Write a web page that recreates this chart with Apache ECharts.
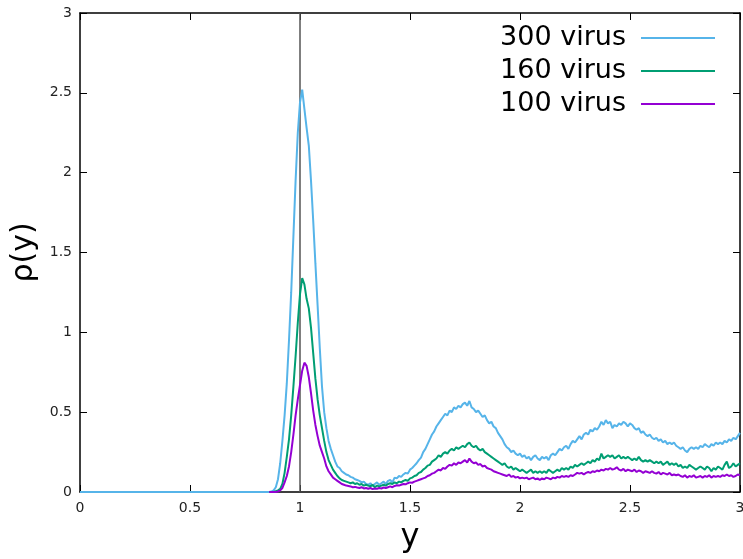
<!DOCTYPE html>
<html>
<head>
<meta charset="utf-8">
<script src="https://cdn.jsdelivr.net/npm/echarts@6/dist/echarts.min.js"></script>
<style>
  html, body { margin: 0; padding: 0; background: #fff; }
  #chart { width: 743px; height: 559px; }
</style>
</head>
<body>
<div id="chart"></div>
<script>
// Density profiles rho(y) for three virus counts
const seriesNames = ['300 virus', '160 virus', '100 virus'];
const seriesColors = ['#56b4e9', '#009e73', '#9400d3'];
const xTicks = [0, 0.5, 1, 1.5, 2, 2.5, 3];
const yTicks = [0, 0.5, 1, 1.5, 2, 2.5, 3];
const markerY = 1;

// flat stretch before the peak (only the 300 curve is traced there)
const flatY = [0, 0.2, 0.4, 0.6, 0.8];
const flat300 = [0, 0, 0, 0, 0];

// fine sampling: y = 0.86 ... 3.00 in steps of 0.01
const fineY = [];
for (let i = 86; i <= 300; i++) fineY.push(i / 100);

const rho300 = [
  0, 0.003, 0.01, 0.03, 0.08, 0.18, 0.32, 0.48, 0.68, 0.95,
  1.25, 1.6, 1.95, 2.25, 2.44, 2.52, 2.4, 2.28, 2.17, 1.95,
  1.7, 1.43, 1.17, 0.9, 0.66, 0.5, 0.4, 0.32, 0.27, 0.23,
  0.19, 0.16, 0.15, 0.13, 0.12,
  0.11, 0.105, 0.095, 0.09, 0.08, 0.075, 0.07, 0.06, 0.065, 0.05,
  0.045, 0.055, 0.04, 0.05, 0.06, 0.045, 0.055, 0.065, 0.05, 0.07,
  0.075, 0.06, 0.09, 0.085, 0.1, 0.095, 0.11, 0.12, 0.115, 0.14,
  0.15, 0.165, 0.18, 0.2, 0.215, 0.25, 0.27, 0.3, 0.33, 0.36,
  0.38, 0.41, 0.43, 0.45, 0.47, 0.49, 0.48, 0.51, 0.5, 0.53,
  0.52, 0.54, 0.53, 0.55, 0.56, 0.54, 0.57, 0.53, 0.52, 0.5,
  0.51, 0.49, 0.47, 0.48, 0.45, 0.43, 0.44, 0.41, 0.4, 0.37,
  0.35, 0.33, 0.3, 0.28, 0.27, 0.25, 0.26, 0.24, 0.23, 0.24,
  0.22, 0.23, 0.21, 0.22, 0.2, 0.22, 0.23, 0.21, 0.2, 0.22,
  0.21, 0.22, 0.2, 0.23, 0.24, 0.23, 0.25, 0.27, 0.26, 0.28,
  0.29, 0.27, 0.3, 0.32, 0.31, 0.33, 0.35, 0.33, 0.36, 0.37,
  0.36, 0.39, 0.38, 0.4, 0.39, 0.41, 0.44, 0.42, 0.45, 0.43,
  0.44, 0.4, 0.42, 0.41, 0.43, 0.42, 0.44, 0.43, 0.41, 0.43,
  0.42, 0.4, 0.39, 0.4, 0.37, 0.38, 0.36, 0.35, 0.36, 0.34,
  0.33, 0.34, 0.32, 0.33, 0.31, 0.32, 0.3, 0.31, 0.3, 0.31,
  0.29, 0.28, 0.27, 0.28, 0.26, 0.25, 0.27, 0.28, 0.27, 0.28,
  0.27, 0.29, 0.28, 0.3, 0.29, 0.28, 0.3, 0.29, 0.31, 0.3,
  0.31, 0.3, 0.32, 0.31, 0.33, 0.32, 0.34, 0.33, 0.35, 0.37
];

const rho160 = [
  0, 0, 0, 0.005, 0.01, 0.02, 0.05, 0.12, 0.22, 0.33,
  0.48, 0.66, 0.85, 1.06, 1.24, 1.34, 1.3, 1.21, 1.15, 1.03,
  0.87, 0.71, 0.58, 0.48, 0.4, 0.32, 0.25, 0.2, 0.17, 0.14,
  0.12, 0.1, 0.085, 0.075, 0.07,
  0.065, 0.06, 0.055, 0.06, 0.05, 0.055, 0.045, 0.05, 0.04, 0.045,
  0.04, 0.035, 0.045, 0.03, 0.04, 0.035, 0.04, 0.045, 0.04, 0.05,
  0.055, 0.05, 0.06, 0.055, 0.065, 0.06, 0.07, 0.075, 0.07, 0.085,
  0.09, 0.1, 0.105, 0.12, 0.125, 0.14, 0.15, 0.165, 0.17, 0.19,
  0.2, 0.21, 0.23, 0.22, 0.24, 0.25, 0.24, 0.26, 0.27, 0.26,
  0.28, 0.27, 0.28, 0.29, 0.28, 0.3, 0.31, 0.29, 0.28, 0.29,
  0.27, 0.26, 0.27, 0.25, 0.24, 0.23, 0.22, 0.21, 0.2, 0.19,
  0.18, 0.17, 0.18, 0.16, 0.15, 0.16, 0.14, 0.15, 0.14, 0.13,
  0.14, 0.13, 0.12, 0.13, 0.14, 0.12, 0.13, 0.12, 0.13, 0.12,
  0.13, 0.12, 0.14, 0.13, 0.12, 0.13, 0.14, 0.13, 0.15, 0.14,
  0.15, 0.14, 0.16, 0.15, 0.17, 0.16, 0.17, 0.18, 0.17, 0.18,
  0.19, 0.18, 0.2, 0.19, 0.21, 0.2, 0.24, 0.21, 0.22, 0.23,
  0.22, 0.23, 0.21, 0.22, 0.23, 0.21, 0.22, 0.21, 0.22, 0.21,
  0.2, 0.21, 0.2, 0.22, 0.2, 0.19, 0.2, 0.19, 0.2, 0.19,
  0.18, 0.19, 0.18, 0.19, 0.17, 0.18, 0.19, 0.17, 0.18, 0.17,
  0.18, 0.16, 0.17, 0.15, 0.16, 0.15, 0.17, 0.16, 0.15, 0.14,
  0.15, 0.16, 0.15, 0.14, 0.16, 0.15, 0.13, 0.15, 0.14, 0.16,
  0.15, 0.14, 0.17, 0.19, 0.15, 0.16, 0.18, 0.16, 0.17, 0.18
];

const rho100 = [
  0, 0, 0, 0, 0.003, 0.01, 0.025, 0.06, 0.1, 0.16,
  0.25, 0.36, 0.48, 0.58, 0.67, 0.76, 0.81, 0.79, 0.72, 0.62,
  0.51, 0.42, 0.35, 0.29, 0.25, 0.21, 0.16, 0.13, 0.11, 0.09,
  0.08, 0.07, 0.06, 0.05, 0.045,
  0.04, 0.038, 0.035, 0.03, 0.032, 0.028, 0.025, 0.03, 0.022, 0.025,
  0.02, 0.025, 0.018, 0.022, 0.02, 0.025, 0.022, 0.028, 0.025, 0.03,
  0.035, 0.03, 0.038, 0.042, 0.04, 0.045, 0.05, 0.048, 0.055, 0.06,
  0.058, 0.065, 0.07, 0.075, 0.08, 0.085, 0.09, 0.1, 0.105, 0.115,
  0.12, 0.13, 0.14, 0.135, 0.15, 0.145, 0.16, 0.17, 0.165, 0.18,
  0.17, 0.185, 0.18, 0.19, 0.2, 0.185, 0.21, 0.19, 0.18, 0.185,
  0.17, 0.175, 0.16, 0.165, 0.15, 0.145, 0.14, 0.13, 0.125, 0.12,
  0.115, 0.11, 0.105, 0.1, 0.11, 0.095, 0.1, 0.09, 0.095, 0.085,
  0.09, 0.085, 0.09, 0.08, 0.085, 0.09, 0.08, 0.085, 0.075, 0.085,
  0.08, 0.09, 0.085, 0.08, 0.09, 0.085, 0.095, 0.09, 0.1, 0.095,
  0.1, 0.095, 0.105, 0.1, 0.11, 0.12, 0.115, 0.12, 0.11, 0.12,
  0.125, 0.12, 0.13, 0.125, 0.135, 0.13, 0.14, 0.135, 0.145, 0.14,
  0.15, 0.14, 0.145, 0.155, 0.14, 0.135, 0.145, 0.13, 0.14, 0.135,
  0.13, 0.14, 0.125, 0.135, 0.13, 0.12, 0.13, 0.125, 0.12, 0.13,
  0.12, 0.115, 0.125, 0.11, 0.12, 0.115, 0.11, 0.12, 0.105, 0.11,
  0.105, 0.11, 0.1, 0.095, 0.105, 0.09, 0.1, 0.095, 0.105, 0.09,
  0.095, 0.1, 0.09, 0.1, 0.095, 0.105, 0.09, 0.1, 0.095, 0.1,
  0.095, 0.105, 0.1, 0.11, 0.1, 0.105, 0.095, 0.1, 0.11, 0.105
];

function pairs(xs, vs) {
  const out = [];
  const n = Math.min(xs.length, vs.length);
  for (let i = 0; i < n; i++) out.push([xs[i], vs[i]]);
  return out;
}

const data300 = pairs(flatY, flat300).concat(pairs(fineY, rho300));
const data160 = pairs(fineY, rho160);
const data100 = pairs(fineY, rho100);

const FONT = 'DejaVu Sans';
const frameLine = { show: true, onZero: false, lineStyle: { color: '#000', width: 1.5 } };
const innerTick = { show: true, inside: true, length: 7, lineStyle: { color: '#000', width: 1 } };

const chart = echarts.init(document.getElementById('chart'), null, { renderer: 'canvas' });

function lineSeries(name, color, data) {
  return {
    name: name,
    type: 'line',
    data: data,
    showSymbol: false,
    symbol: 'none',
    smooth: false,
    lineStyle: { color: color, width: 2 },
    itemStyle: { color: color },
    emphasis: { disabled: true },
    animation: false
  };
}

chart.setOption({
  animation: false,
  textStyle: { fontFamily: FONT },
  grid: { left: 80, right: 3, top: 13, bottom: 67, containLabel: false, outerBoundsMode: 'none' },
  legend: {
    data: seriesNames.map(function (n) { return { name: n, icon: 'rect' }; }),
    orient: 'vertical',
    align: 'right',
    right: 28,
    top: 23,
    padding: 0,
    itemWidth: 74,
    itemHeight: 2,
    itemGap: 3,
    selectedMode: false,
    textStyle: { fontFamily: FONT, fontSize: 27, color: '#000', lineHeight: 30, padding: [0, 10, 0, 0] }
  },
  xAxis: [
    {
      type: 'value', position: 'bottom', min: 0, max: 3, interval: 0.5,
      axisLine: frameLine, axisTick: innerTick, splitLine: { show: false },
      axisLabel: { color: '#222', fontSize: 14, margin: 9, fontFamily: FONT,
        customValues: xTicks },
      name: 'y', nameLocation: 'middle', nameGap: 30,
      nameTextStyle: { fontSize: 32, color: '#000', fontFamily: FONT }
    },
    {
      type: 'value', position: 'top', min: 0, max: 3, interval: 0.5,
      axisLine: frameLine, axisTick: innerTick, splitLine: { show: false },
      axisLabel: { show: false }
    }
  ],
  yAxis: [
    {
      type: 'value', position: 'left', min: 0, max: 3, interval: 0.5,
      axisLine: frameLine, axisTick: innerTick, splitLine: { show: false },
      axisLabel: { color: '#222', fontSize: 14, margin: 8, fontFamily: FONT,
        customValues: yTicks },
      name: 'ρ(y)', nameLocation: 'middle', nameGap: 39,
      nameTextStyle: { fontSize: 30, color: '#000', fontFamily: FONT }
    },
    {
      type: 'value', position: 'right', min: 0, max: 3, interval: 0.5,
      axisLine: frameLine, axisTick: innerTick, splitLine: { show: false },
      axisLabel: { show: false }
    }
  ],
  series: [
    {
      name: 'marker',
      type: 'line',
      data: [[markerY, 0], [markerY, 3]],
      symbol: 'none',
      lineStyle: { color: '#555', width: 1.5 },
      silent: true,
      z: 1,
      animation: false
    },
    lineSeries(seriesNames[0], seriesColors[0], data300),
    lineSeries(seriesNames[1], seriesColors[1], data160),
    lineSeries(seriesNames[2], seriesColors[2], data100)
  ]
});
</script>
</body>
</html>
